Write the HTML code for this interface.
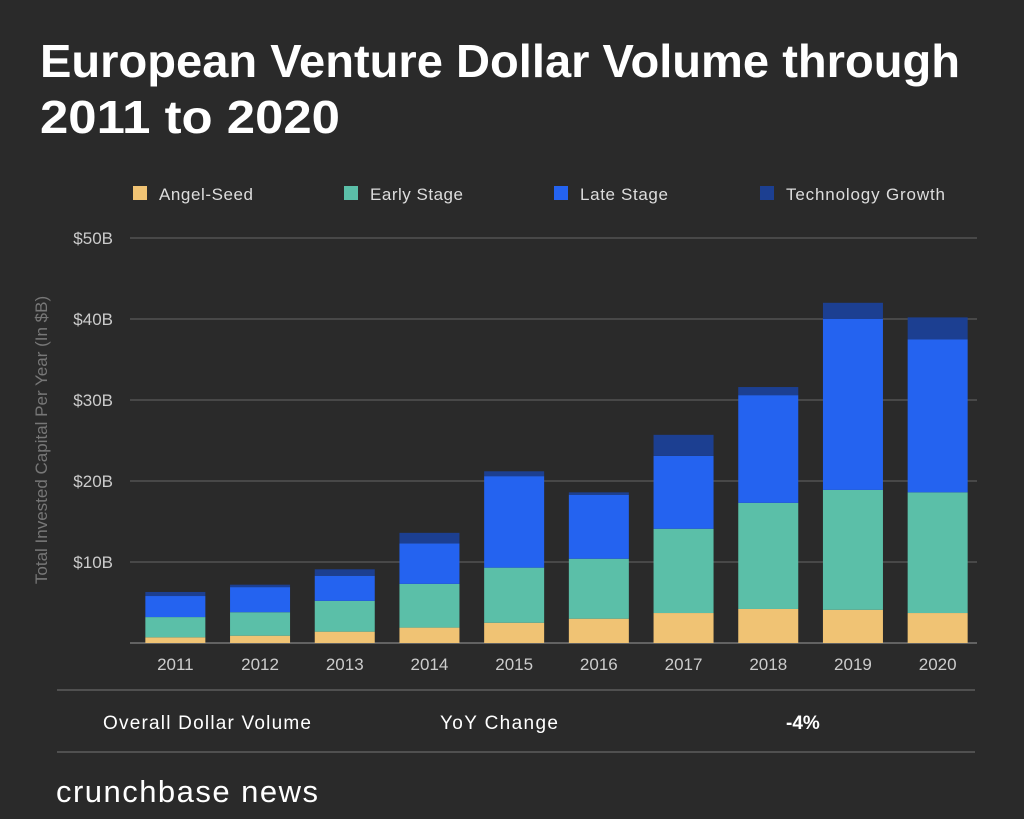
<!DOCTYPE html>
<html><head><meta charset="utf-8"><style>
body{margin:0;background:#2a2a2a;width:1024px;height:819px;overflow:hidden;font-family:"Liberation Sans",sans-serif;}
</style></head><body>
<svg width="1024" height="819" id="svg" style="position:absolute;left:0;top:0">
<rect width="1024" height="819" fill="#2a2a2a"/>
<text x="40" y="77" fill="#fff" font-size="46" font-weight="bold" textLength="920" lengthAdjust="spacingAndGlyphs">European Venture Dollar Volume through</text>
<text x="40" y="133" fill="#fff" font-size="46" font-weight="bold" textLength="300" lengthAdjust="spacingAndGlyphs">2011 to 2020</text>
<g font-size="17" fill="#ddd">
<rect x="133" y="186" width="14" height="14" fill="#f0c374"/><text x="159" y="200" fill="#ddd" textLength="94">Angel-Seed</text>
<rect x="344" y="186" width="14" height="14" fill="#5bbfa8"/><text x="370" y="200" fill="#ddd" textLength="93">Early Stage</text>
<rect x="554" y="186" width="14" height="14" fill="#2463f0"/><text x="580" y="200" fill="#ddd" textLength="88">Late Stage</text>
<rect x="760" y="186" width="14" height="14" fill="#1c3f91"/><text x="786" y="200" fill="#ddd" textLength="159">Technology Growth</text>
</g>
<text transform="translate(47,440) rotate(-90)" text-anchor="middle" fill="#777" font-size="17">Total Invested Capital Per Year (In $B)</text>
<g id="plot"></g>
<line x1="57" y1="690" x2="975" y2="690" stroke="#777"/>
<text x="103" y="729" fill="#fff" font-size="19" textLength="208">Overall Dollar Volume</text>
<text x="440" y="729" fill="#fff" font-size="19" textLength="118">YoY Change</text>
<text x="786" y="729" fill="#fff" font-size="19" font-weight="bold">-4%</text>
<line x1="57" y1="752" x2="975" y2="752" stroke="#777"/>
<text x="56" y="802" fill="#fff" font-size="31" textLength="262">crunchbase news</text>
</svg>
<script>
const categories=["2011","2012","2013","2014","2015","2016","2017","2018","2019","2020"];
const angelSeed=[0.7,0.9,1.4,1.9,2.5,3.0,3.7,4.2,4.1,3.7];
const earlyStage=[2.5,2.9,3.8,5.4,6.8,7.4,10.4,13.1,14.8,14.9];
const lateStage=[2.6,3.1,3.1,5.0,11.3,7.9,9.0,13.3,21.1,18.9];
const techGrowth=[0.5,0.3,0.8,1.3,0.6,0.3,2.6,1.0,2.0,2.7];
const yTicks=[0,10,20,30,40,50];
const yTickLabels=["","$10B","$20B","$30B","$40B","$50B"];
const NS="http://www.w3.org/2000/svg";
const plot=document.getElementById("plot");
const y0=643,pxPer=8.1,xL=130,xR=977;
const yScale=v=>y0-v*pxPer;
const step=(xR-xL)/categories.length;
const xCenter=i=>xL+step*(i+0.5)+3;
const bw=60;
function mk(tag,attrs){const e=document.createElementNS(NS,tag);for(const k in attrs)e.setAttribute(k,attrs[k]);plot.appendChild(e);return e;}
yTicks.forEach((t,i)=>{
 const l=mk("line",{x1:xL,x2:xR,y1:yScale(t),y2:yScale(t),stroke:i==0?"#999":"#666","stroke-width":1});
 
 
 if(yTickLabels[i]){const tx=mk("text",{x:113,y:yScale(t)+6,"text-anchor":"end",fill:"#ccc","font-size":17});tx.textContent=yTickLabels[i];
 
 }
});
const series=[[angelSeed,"#f0c374","angel-seed"],[earlyStage,"#5bbfa8","early-stage"],[lateStage,"#2463f0","late-stage"],[techGrowth,"#1c3f91","technology-growth"]];
categories.forEach((c,i)=>{
 let base=0;
 series.forEach(([arr,col,nm])=>{
  const v=arr[i];
  const r=mk("rect",{x:xCenter(i)-bw/2,y:yScale(base+v),width:bw,height:v*pxPer,fill:col});
  
  
  base+=v;
 });
 const tx=mk("text",{x:xCenter(i),y:670,"text-anchor":"middle",fill:"#ccc","font-size":17});
 tx.textContent=c;
 
 
});
</script>
</body></html>
